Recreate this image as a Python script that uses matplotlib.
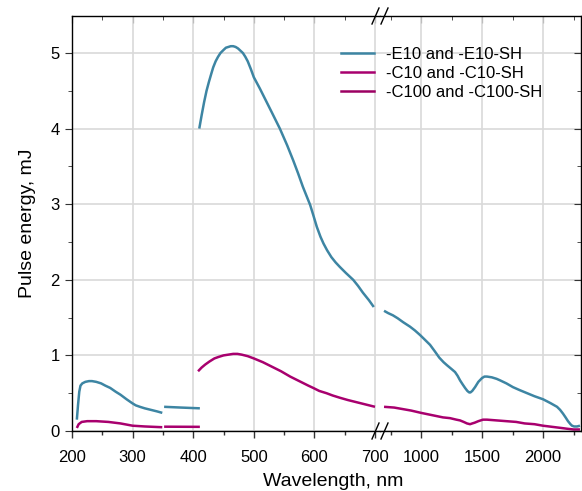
import matplotlib
matplotlib.use("Agg")
import matplotlib.pyplot as plt
from matplotlib.lines import Line2D
from matplotlib.ticker import MultipleLocator, FixedLocator

plt.rcParams['font.family'] = ['Liberation Sans', 'DejaVu Sans']

# ---------------- data ----------------
e10_wl_1 = [208, 210, 212, 214, 217, 222, 228, 233, 240, 248, 255, 263, 272, 280, 290,
            299, 305, 312, 320, 330, 340, 349]
e10_1 = [0.15, 0.35, 0.52, 0.60, 0.63, 0.65, 0.66, 0.66, 0.65, 0.63, 0.60, 0.57, 0.52,
         0.48, 0.42, 0.37, 0.34, 0.32, 0.30, 0.28, 0.26, 0.24]
e10_wl_2 = [352, 380, 411]
e10_2 = [0.32, 0.31, 0.30]
e10_wl_3 = [410, 414, 418, 422, 426, 430, 433, 437, 441, 445, 450, 454, 458, 462, 466,
            470, 474, 478, 482, 486, 490, 495, 500, 510, 520, 530, 543, 555, 565, 573,
            581, 587, 593, 598, 604, 610, 615, 621, 628, 635, 642, 652, 664, 672, 680,
            690, 698]
e10_3 = [4.00, 4.18, 4.35, 4.50, 4.62, 4.73, 4.81, 4.89, 4.95, 5.00, 5.04, 5.07, 5.08,
         5.09, 5.09, 5.08, 5.06, 5.03, 5.00, 4.95, 4.89, 4.79, 4.68, 4.53, 4.37, 4.21,
         4.00, 3.78, 3.58, 3.41, 3.23, 3.11, 2.99, 2.86, 2.70, 2.57, 2.48, 2.39, 2.30,
         2.23, 2.17, 2.09, 2.00, 1.92, 1.83, 1.73, 1.64]
e10_wl_4 = [697, 730, 770, 810, 853, 910, 950, 992, 1030, 1074, 1115, 1150, 1185, 1213,
            1250, 1279, 1300, 1320, 1340, 1361, 1380, 1395, 1405, 1420, 1443, 1470,
            1500, 1520, 1541, 1580, 1620, 1648, 1700, 1754, 1810, 1870, 1930, 2000,
            2060, 2115, 2140, 2164, 2185, 2205, 2225, 2238, 2255, 2279, 2303]
e10_4 = [1.59, 1.56, 1.53, 1.49, 1.44, 1.38, 1.33, 1.27, 1.21, 1.14, 1.05, 0.97, 0.91,
         0.87, 0.82, 0.78, 0.73, 0.67, 0.62, 0.57, 0.53, 0.51, 0.51, 0.53, 0.58, 0.65,
         0.70, 0.72, 0.72, 0.71, 0.69, 0.67, 0.63, 0.58, 0.54, 0.50, 0.46, 0.42, 0.37,
         0.32, 0.28, 0.23, 0.18, 0.13, 0.09, 0.07, 0.06, 0.06, 0.07]

c10_wl_1 = [208, 211, 216, 225, 240, 260, 280, 300, 320, 349]
c10_1 = [0.04, 0.09, 0.12, 0.13, 0.13, 0.12, 0.10, 0.07, 0.06, 0.05]
c10_wl_2 = [352, 380, 411]
c10_2 = [0.057, 0.056, 0.055]
c10_wl_3 = [408, 414, 420, 427, 435, 442, 450, 458, 466, 473, 480, 490, 500, 515, 530,
            545, 560, 570, 580, 590, 598, 608, 620, 630, 642, 655, 670, 685, 700]
c10_3 = [0.79, 0.84, 0.88, 0.92, 0.96, 0.98, 1.00, 1.01, 1.02, 1.02, 1.01, 0.99, 0.96,
         0.91, 0.85, 0.79, 0.72, 0.68, 0.64, 0.60, 0.57, 0.53, 0.50, 0.47, 0.44, 0.41,
         0.38, 0.35, 0.32]
c10_wl_4 = [697, 780, 850, 920, 1000, 1060, 1120, 1180, 1238, 1290, 1320, 1350, 1377,
            1402, 1420, 1440, 1470, 1508, 1541, 1620, 1700, 1780, 1850, 1930, 2000,
            2050, 2100, 2150, 2197, 2250, 2303]
c10_4 = [0.32, 0.31, 0.29, 0.27, 0.24, 0.22, 0.20, 0.18, 0.17, 0.15, 0.14, 0.12, 0.10,
         0.09, 0.10, 0.11, 0.13, 0.15, 0.15, 0.14, 0.13, 0.12, 0.10, 0.09, 0.07, 0.06,
         0.05, 0.04, 0.03, 0.02, 0.02]

labels = ['-E10 and -E10-SH', '-C10 and -C10-SH', '-C100 and -C100-SH']
colors = ['#3D85A3', '#A8006E', '#9C0062']

left_ticks = [200, 300, 400, 500, 600, 700]
right_ticks = [1000, 1500, 2000]
y_ticks = [0, 1, 2, 3, 4, 5]

# ---------------- layout ----------------
W, H = 582, 491
fig = plt.figure(figsize=(W / 100, H / 100), dpi=100)


def fr(x0, x1, y0, y1):
    return [x0 / W, 1 - y1 / H, (x1 - x0) / W, (y1 - y0) / H]


ax1 = fig.add_axes(fr(72, 380, 16, 431))
ax2 = fig.add_axes(fr(380, 581, 16, 431), sharey=ax1)

LW = 1.8
grid_c = '#d9d9d9'

for ax in (ax1, ax2):
    ax.set_axisbelow(True)
    ax.grid(True, which='major', color=grid_c, lw=1.2)
    ax.tick_params(axis='x', which='both', direction='out', top=False,
                   labelsize=12, pad=9, color='#333333')
    ax.tick_params(axis='x', which='major', length=5, width=1)
    ax.tick_params(axis='x', which='minor', length=3, width=1)
    for s in ax.spines.values():
        s.set_linewidth(1.0)

kw = dict(lw=LW, solid_capstyle='butt', solid_joinstyle='round')
ax1.plot(e10_wl_1, e10_1, color=colors[0], **kw)
ax1.plot(e10_wl_2, e10_2, color=colors[0], **kw)
ax1.plot(e10_wl_3, e10_3, color=colors[0], **kw)
ax1.plot(c10_wl_1, c10_1, color=colors[1], **kw)
ax1.plot(c10_wl_2, c10_2, color=colors[1], **kw)
ax1.plot(c10_wl_3, c10_3, color=colors[1], **kw)
ax2.plot(e10_wl_4, e10_4, color=colors[0], **kw)
ax2.plot(c10_wl_4, c10_4, color=colors[1], **kw)

ax1.set_xlim(200, 200 + 308 / 0.606)
ax2.set_xlim(1000 - 41 / 0.122, 1000 + 160 / 0.122)
ax1.set_ylim(0, (431 - 16) / 75.6)

ax1.xaxis.set_major_locator(FixedLocator(left_ticks))
ax1.xaxis.set_minor_locator(FixedLocator([250, 350, 450, 550, 650]))
ax2.xaxis.set_major_locator(FixedLocator(right_ticks))
ax2.xaxis.set_minor_locator(FixedLocator([750, 1250, 1750, 2250]))
ax1.yaxis.set_major_locator(FixedLocator(y_ticks))
ax1.yaxis.set_minor_locator(MultipleLocator(0.5))

ax1.spines['right'].set_visible(False)
ax2.spines['left'].set_visible(False)

ax1.tick_params(axis='y', which='both', direction='out', left=True, right=False,
                labelsize=12, pad=4, color='#333333')
ax1.tick_params(axis='y', which='major', length=5)
ax1.tick_params(axis='y', which='minor', length=3)
ax2.tick_params(axis='y', which='both', direction='in', left=False, right=True,
                labelleft=False, labelright=False, color='#333333')
ax2.tick_params(axis='y', which='major', length=5)
ax2.tick_params(axis='y', which='minor', length=3)

# top ticks point inward
for ax in (ax1, ax2):
    sec = ax.secondary_xaxis('top')
    sec.xaxis.set_major_locator(FixedLocator(ax.xaxis.get_majorticklocs()))
    sec.xaxis.set_minor_locator(FixedLocator(ax.xaxis.get_minorticklocs()))
    sec.tick_params(axis='x', which='both', direction='in', labeltop=False, color='#333333')
    sec.tick_params(axis='x', which='major', length=5)
    sec.tick_params(axis='x', which='minor', length=3)
    sec.spines['top'].set_visible(False)

ax1.set_ylabel('Pulse energy, mJ', fontsize=14, labelpad=10)
fig.text((262 + 405) / 2 / W, 1 - 481 / H, 'Wavelength, nm', fontsize=14,
         ha='center', va='center')

# break marks
for yb in (431, 16):
    for xc in (375.5, 384.5):
        fig.add_artist(Line2D([(xc - 3.5) / W, (xc + 3.5) / W],
                              [1 - (yb + 8) / H, 1 - (yb - 8) / H],
                              transform=fig.transFigure, color='black', lw=1.0))

handles = [Line2D([], [], color=c, lw=LW) for c in colors]
fig.legend(handles, labels, loc='upper left', bbox_to_anchor=(341 / W, 1 - 47 / H),
           frameon=False, fontsize=12, handlelength=1.95, handletextpad=0.75,
           labelspacing=0.25, borderpad=0, borderaxespad=0)

fig.savefig('out.png', dpi=100)
